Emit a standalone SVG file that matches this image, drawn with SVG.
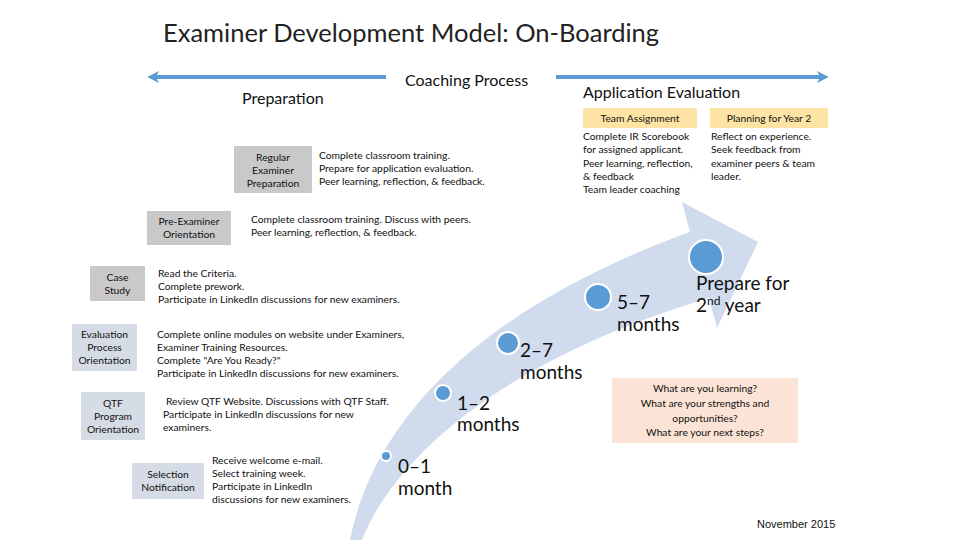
<svg xmlns="http://www.w3.org/2000/svg" width="960" height="540" viewBox="0 0 960 540">
<defs>
<style>
text{font-family:Lato,"Open Sans","Liberation Sans",sans-serif;fill:#111}
.t{font-size:10.3px}
.c{text-anchor:middle}
.h{font-size:16px}
.m{font-size:19px;fill:#111}
.g{fill:#c9c9c9}
.b{fill:#d6dce5}
.y{fill:#fde4a4}
.dot{fill:#5b9bd5;stroke:#fff;stroke-width:2}
</style>
<marker id="ah" viewBox="0 0 10 10" refX="6" refY="5" markerWidth="3" markerHeight="3.4" orient="auto-start-reverse" markerUnits="strokeWidth">
<path d="M0,0 L10,5 L0,10 L3,5 Z" fill="#5b9bd5"/>
</marker>
</defs>
<rect width="960" height="540" fill="#fff"/>
<text x="163" y="42" style="font-size:25.5px;fill:#222">Examiner Development Model: On-Boarding</text>

<g id="connectors">
<line x1="152" y1="77" x2="386" y2="77" stroke="#5b9bd5" stroke-width="4" marker-start="url(#ah)"/>
<line x1="556" y1="77" x2="824" y2="77" stroke="#5b9bd5" stroke-width="4" marker-end="url(#ah)"/>
<path id="bigArrow" d="M350,540 C364,470 420,330 690,232 L682,202 L758,242 L717,328 L709,298 C470,370 385,480 362,540 Z" fill="#d0dbee"/>
</g>

<text class="h" x="405" y="86">Coaching Process</text>
<text class="h" x="242" y="104">Preparation</text>
<text class="h" x="583" y="98">Application Evaluation</text>

<g id="team">
<rect class="y" x="583" y="108" width="114" height="20"/>
<text class="t c" x="640" y="122">Team Assignment</text>
<text class="t" x="583" y="140">Complete IR Scorebook</text>
<text class="t" x="583" y="153">for assigned applicant.</text>
<text class="t" x="583" y="167">Peer learning, reflection,</text>
<text class="t" x="583" y="180">&amp; feedback</text>
<text class="t" x="583" y="193">Team leader coaching</text>
</g>
<g id="planning">
<rect class="y" x="710" y="108" width="118" height="20"/>
<text class="t c" x="769" y="122">Planning for Year 2</text>
<text class="t" x="711" y="140">Reflect on experience.</text>
<text class="t" x="711" y="153">Seek feedback from</text>
<text class="t" x="711" y="167">examiner peers &amp; team</text>
<text class="t" x="711" y="180">leader.</text>
</g>

<g id="regular">
<rect class="g" x="234" y="146" width="78" height="47"/>
<text class="t c" x="273" y="161">Regular</text>
<text class="t c" x="273" y="174">Examiner</text>
<text class="t c" x="273" y="187">Preparation</text>
<text class="t" x="319" y="159">Complete classroom training.</text>
<text class="t" x="319" y="172">Prepare for application evaluation.</text>
<text class="t" x="319" y="185">Peer learning, reflection, &amp; feedback.</text>
</g>
<g id="preexaminer">
<rect class="g" x="147" y="211" width="84" height="34"/>
<text class="t c" x="189" y="225">Pre-Examiner</text>
<text class="t c" x="189" y="238">Orientation</text>
<text class="t" x="251" y="223">Complete classroom training. Discuss with peers.</text>
<text class="t" x="251" y="236">Peer learning, reflection, &amp; feedback.</text>
</g>
<g id="casestudy">
<rect class="g" x="90" y="266" width="55" height="35"/>
<text class="t c" x="117.5" y="281">Case</text>
<text class="t c" x="117.5" y="294">Study</text>
<text class="t" x="158" y="277">Read the Criteria.</text>
<text class="t" x="158" y="290">Complete prework.</text>
<text class="t" x="158" y="303">Participate in LinkedIn discussions  for new examiners.</text>
</g>
<g id="evaluation">
<rect class="b" x="72" y="324" width="65" height="47"/>
<text class="t c" x="104.5" y="338">Evaluation</text>
<text class="t c" x="104.5" y="351">Process</text>
<text class="t c" x="104.5" y="364">Orientation</text>
<text class="t" x="157" y="338">Complete online modules on website under Examiners,</text>
<text class="t" x="157" y="351">Examiner Training Resources.</text>
<text class="t" x="157" y="364">Complete "Are You Ready?"</text>
<text class="t" x="157" y="377">Participate in LinkedIn discussions for new examiners.</text>
</g>
<g id="qtf">
<rect class="b" x="81" y="392" width="64" height="48"/>
<text class="t c" x="113" y="407">QTF</text>
<text class="t c" x="113" y="420">Program</text>
<text class="t c" x="113" y="433">Orientation</text>
<text class="t" x="166" y="405">Review QTF Website. Discussions with QTF Staff.</text>
<text class="t" x="163" y="418">Participate in LinkedIn discussions for new</text>
<text class="t" x="163" y="431">examiners.</text>
</g>
<g id="selection">
<rect class="b" x="132" y="463" width="72" height="36"/>
<text class="t c" x="168" y="478">Selection</text>
<text class="t c" x="168" y="491">Notification</text>
<text class="t" x="212" y="464">Receive welcome e-mail.</text>
<text class="t" x="212" y="477">Select training week.</text>
<text class="t" x="212" y="490">Participate in LinkedIn</text>
<text class="t" x="212" y="503">discussions for new examiners.</text>
</g>

<g id="m01">
<circle class="dot" cx="386" cy="456" r="5"/>
<text class="m" x="398" y="473">0–1</text>
<text class="m" x="398" y="495">month</text>
</g>
<g id="m12">
<circle class="dot" cx="443" cy="393" r="8"/>
<text class="m" x="457" y="410">1–2</text>
<text class="m" x="457" y="431">months</text>
</g>
<g id="m27">
<circle class="dot" cx="508" cy="343" r="11"/>
<text class="m" x="520" y="357">2–7</text>
<text class="m" x="520" y="379">months</text>
</g>
<g id="m57">
<circle class="dot" cx="598" cy="297" r="13"/>
<text class="m" x="617" y="309">5–7</text>
<text class="m" x="617" y="331">months</text>
</g>
<g id="year2">
<circle class="dot" cx="706" cy="257" r="17"/>
<text class="m" x="696" y="290">Prepare for</text>
<text class="m" x="696" y="312">2<tspan dy="-7" style="font-size:12px">nd</tspan><tspan dy="7"> year</tspan></text>
</g>

<g id="questions">
<rect x="612" y="378" width="186" height="65" fill="#fbe4d5"/>
<text class="t c" x="705" y="392">What are you learning?</text>
<text class="t c" x="705" y="407">What are your strengths and</text>
<text class="t c" x="705" y="422">opportunities?</text>
<text class="t c" x="705" y="436">What are your next steps?</text>
</g>
<text x="757" y="528" style="font-family:'Liberation Sans',Arial,sans-serif;font-size:11px">November 2015</text>
</svg>
